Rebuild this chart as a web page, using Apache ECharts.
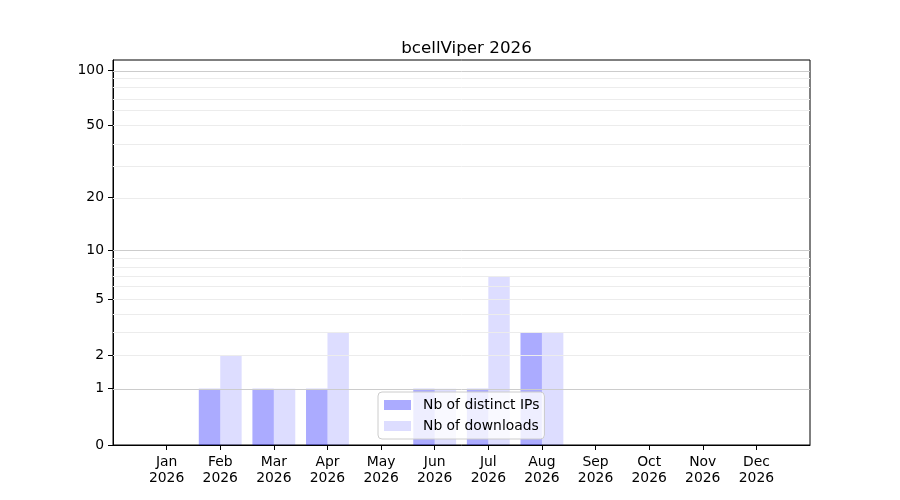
<!DOCTYPE html>
<html>
<head>
<meta charset="utf-8">
<script src="https://cdn.jsdelivr.net/npm/echarts@6/dist/echarts.min.js"></script>
<style>html,body{margin:0;padding:0;background:#fff}#c{width:900px;height:500px}</style>
</head>
<body>
<div id="c"></div>
<script>
const months = ['Jan','Feb','Mar','Apr','May','Jun','Jul','Aug','Sep','Oct','Nov','Dec'];
const year = '2026';
const ipsValues = [0,1,1,1,0,1,1,3,0,0,0,0];
const downloadValues = [0,2,1,3,0,1,7,3,0,0,0,0];
const yTickLabels = [0,1,2,5,10,20,50,100];
const majorGridValues = [1,10,100];
const minorGridValues = [2,3,4,5,6,7,8,9,20,30,40,50,60,70,80,90];

const f = v => Math.log10(1 + v);
const inv = t => Math.round(Math.pow(10, t) - 1);
const FONT = 'DejaVu Sans';

// pad category axis with one empty slot on each side (matplotlib margins)
const cats = [''].concat(months.map(m => m + '\n' + year)).concat(['']);
const pad = arr => [null].concat(arr.map(f)).concat([null]);

const chart = echarts.init(document.getElementById('c'));
chart.setOption({
  animation: false,
  title: {
    text: 'bcellViper ' + year,
    left: 461.5, textAlign: 'center', top: 35,
    textStyle: {fontFamily: FONT, fontSize: 16.7, fontWeight: 'normal', color: '#000'}
  },
  grid: {left: 113, right: 90, top: 60, bottom: 55, show: true, borderColor: '#000', borderWidth: 1, backgroundColor: 'transparent'},
  legend: {
    orient: 'vertical', left: 378, top: 392,
    data: ['Nb of distinct IPs', 'Nb of downloads'],
    icon: 'rect', itemWidth: 27, itemHeight: 10, itemGap: 5, padding: [5, 5, 5, 6],
    backgroundColor: 'rgba(255,255,255,0.8)', borderColor: '#cccccc', borderWidth: 1, borderRadius: 4,
    textStyle: {fontFamily: FONT, fontSize: 13.9, color: '#000', lineHeight: 16, padding: [0,0,0,7]},
    itemStyle: {borderWidth: 0}
  },
  xAxis: {
    type: 'category', data: cats, boundaryGap: false,
    axisLine: {show: true, lineStyle: {color: '#000', width: 1}},
    axisTick: {show: true, length: 5, inside: false, lineStyle: {color: '#000'},
      interval: (i) => i > 0 && i < cats.length - 1, alignWithLabel: true},
    axisLabel: {fontFamily: FONT, fontSize: 13.9, color: '#000', lineHeight: 16, margin: 9, interval: 0},
    splitLine: {show: false}
  },
  yAxis: {
    type: 'value', min: 0, max: 2.0577,
    axisLine: {show: true, lineStyle: {color: '#000', width: 1}},
    axisTick: {show: true, length: 5, inside: false, lineStyle: {color: '#000'}, customValues: yTickLabels.map(f)},
    axisLabel: {fontFamily: FONT, fontSize: 13.9, color: '#000', margin: 9, padding: [3, 0, 0, 0],
      customValues: yTickLabels.map(f), formatter: v => String(inv(v))},
    splitLine: {show: false}
  },
  series: [
    {
      name: 'grid', type: 'line', data: [], z: 0, silent: true,
      markLine: {
        silent: true, symbol: 'none', label: {show: false}, animation: false,
        data: majorGridValues.map(v => ({yAxis: f(v), lineStyle: {color: '#cccccc', width: 1, type: 'solid'}}))
          .concat(minorGridValues.map(v => ({yAxis: f(v), lineStyle: {color: '#ececec', width: 1, type: 'solid'}})))
      }
    },
    {
      name: 'Nb of distinct IPs', type: 'bar', data: pad(ipsValues), barWidth: '40%', barGap: '0%',
      itemStyle: {color: 'rgba(0,0,255,0.33)'}, z: 2
    },
    {
      name: 'Nb of downloads', type: 'bar', data: pad(downloadValues), barWidth: '40%', barGap: '0%',
      itemStyle: {color: 'rgba(0,0,255,0.135)'}, z: 2
    }
  ]
});
</script>
</body>
</html>
